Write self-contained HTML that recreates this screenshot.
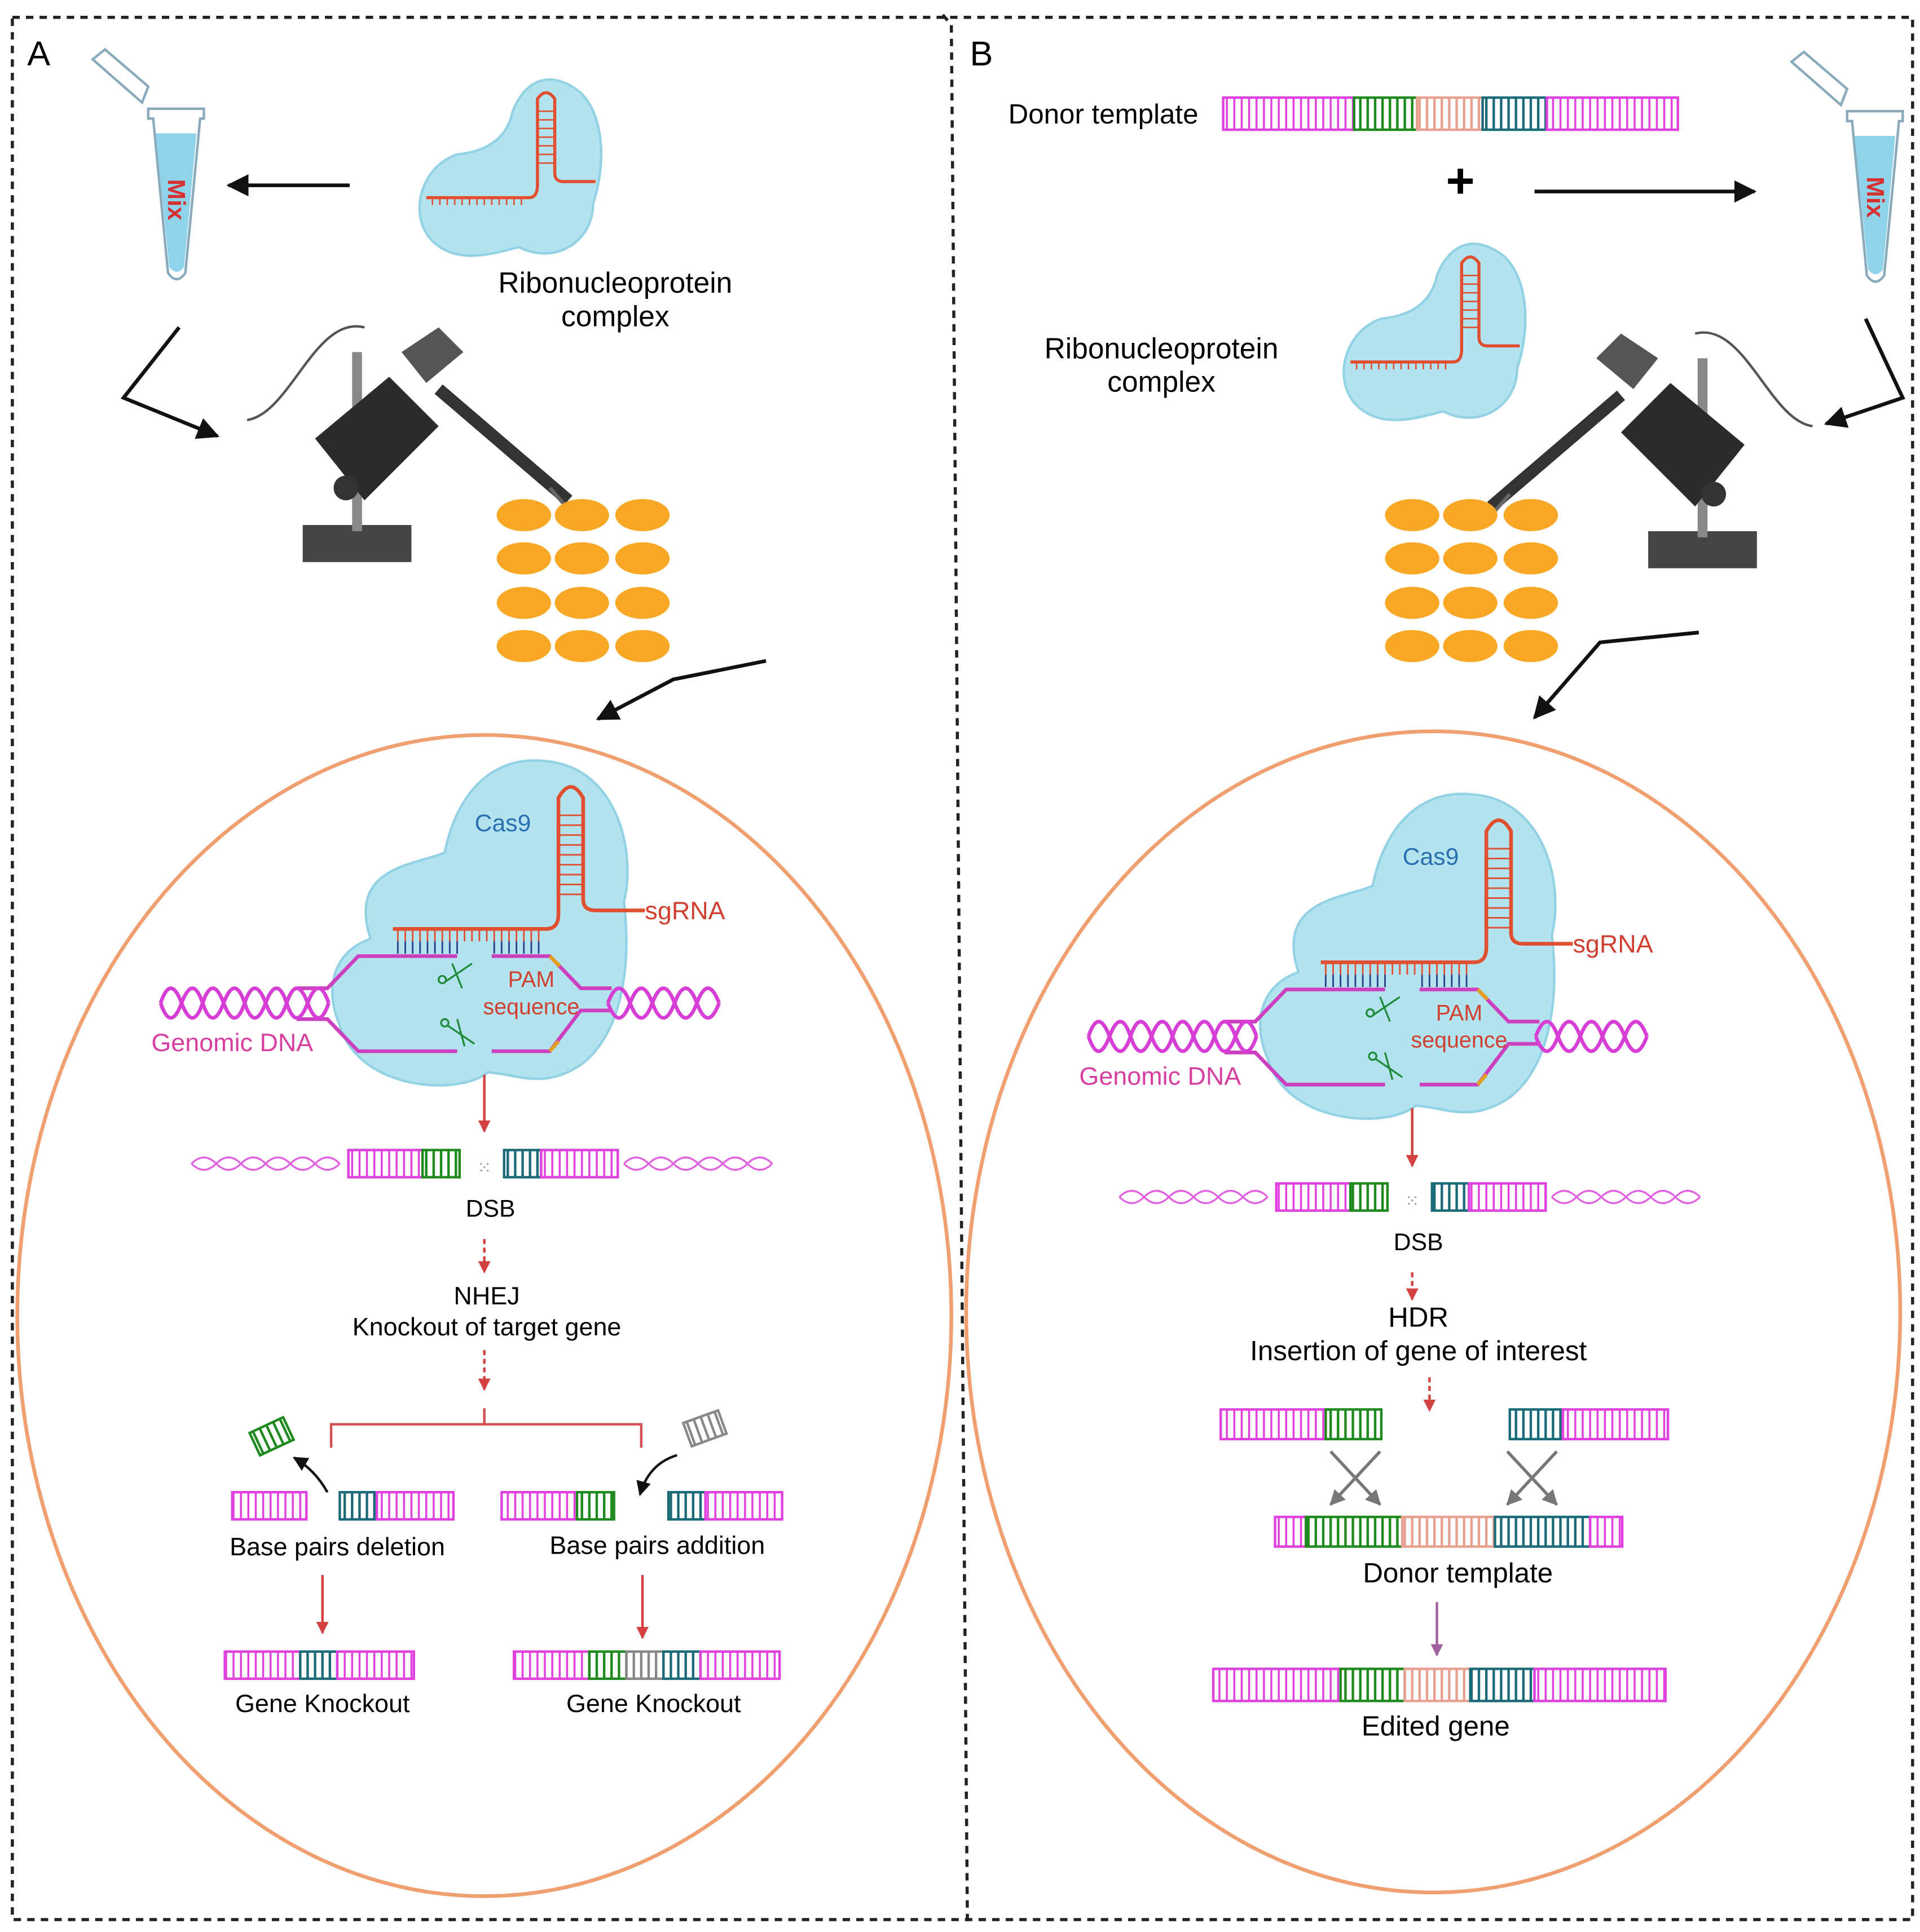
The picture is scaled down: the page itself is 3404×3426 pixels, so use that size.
<!DOCTYPE html>
<html><head><meta charset="utf-8"><style>
html,body{margin:0;padding:0;background:#fff;}
svg{display:block;}
text{font-family:"Liberation Sans",sans-serif;}
</style></head><body>
<svg width="3404" height="3426" viewBox="0 0 1554 1564" xmlns="http://www.w3.org/2000/svg">
<defs>
<pattern id="pp" width="6" height="30" patternUnits="userSpaceOnUse"><rect width="6" height="30" fill="#fff"/><line x1="3" y1="0" x2="3" y2="30" stroke="#e040e0" stroke-width="1.6"/></pattern>
<pattern id="pg" width="6" height="30" patternUnits="userSpaceOnUse"><rect width="6" height="30" fill="#fff"/><line x1="3" y1="0" x2="3" y2="30" stroke="#1e8a1e" stroke-width="2"/></pattern>
<pattern id="pt" width="6" height="30" patternUnits="userSpaceOnUse"><rect width="6" height="30" fill="#fff"/><line x1="3" y1="0" x2="3" y2="30" stroke="#1a6a78" stroke-width="2"/></pattern>
<pattern id="ps" width="6" height="30" patternUnits="userSpaceOnUse"><rect width="6" height="30" fill="#fff"/><line x1="3" y1="0" x2="3" y2="30" stroke="#e8a090" stroke-width="2"/></pattern>
<pattern id="pa" width="6" height="30" patternUnits="userSpaceOnUse"><rect width="6" height="30" fill="#fff"/><line x1="3" y1="0" x2="3" y2="30" stroke="#888" stroke-width="2"/></pattern>
<marker id="ak" viewBox="0 0 10 10" refX="9" refY="5" markerWidth="6" markerHeight="6" orient="auto"><path d="M0,0L10,5L0,10z" fill="#111"/></marker>
<marker id="ar" viewBox="0 0 10 10" refX="9" refY="5" markerWidth="5" markerHeight="5" orient="auto"><path d="M0,0L10,5L0,10z" fill="#d24040"/></marker>
<marker id="apu" viewBox="0 0 10 10" refX="9" refY="5" markerWidth="5" markerHeight="5" orient="auto"><path d="M0,0L10,5L0,10z" fill="#a060a0"/></marker>
<marker id="agr" viewBox="0 0 10 10" refX="9" refY="5" markerWidth="5" markerHeight="5" orient="auto"><path d="M0,0L10,5L0,10z" fill="#777"/></marker>
<g id="tube">
 <path d="M0,0 h45 v8 h-3 l-12,125 q-7,10 -14,0 l-12,-125 h-4z" fill="#fff" stroke="#8ab" stroke-width="2"/>
 <path d="M6,20 h33 l-10,108 q-6,8 -12,0z" fill="#8fd3ea"/>
 <path d="M-5,-5 l-40,-35 l10,-8 l35,30z" fill="#fff" stroke="#8ab" stroke-width="2"/>
</g>
<g id="rnp">
 <path d="M40,70 C10,80 0,120 20,140 C40,160 70,150 90,145 C120,160 150,140 150,110 C160,80 160,40 140,20 C115,0 95,10 85,35 C80,60 60,68 40,70Z" fill="#b3e3ef" stroke="#92d2e4" stroke-width="2"/>
 <path d="M15,105 H98 Q105,105 105,95 V25 Q112,15 119,25 V85 Q119,92 126,92 H152" fill="none" stroke="#e05030" stroke-width="2.5"/>
 <g stroke="#e05030" stroke-width="1.2"><path d="M20,105v6M26,105v6M32,105v6M38,105v6M44,105v6M50,105v6M56,105v6M62,105v6M68,105v6M74,105v6M80,105v6M86,105v6M92,105v6M105,35h14M105,42h14M105,49h14M105,56h14M105,63h14M105,70h14M105,77h14"/></g>
</g>
<g id="scope">
 <rect x="0" y="160" width="88" height="30" fill="#444"/>
 <rect x="40" y="20" width="8" height="145" fill="#888"/>
 <path d="M10,90 L70,40 L110,80 L50,140Z" fill="#2b2b2b"/>
 <path d="M80,20 L110,0 L130,20 L100,45Z" fill="#555"/>
 <path d="M110,50 L215,140" stroke="#333" stroke-width="10"/>
 <path d="M200,130 L222,155" stroke="#666" stroke-width="3"/>
 <circle cx="35" cy="130" r="10" fill="#333"/>
 <path d="M-45,75 C-10,70 10,-10 50,0" fill="none" stroke="#555" stroke-width="2"/>
</g>
<g id="eggs" fill="#f9a826">
 <ellipse cx="0" cy="0" rx="22" ry="13"/><ellipse cx="47" cy="0" rx="22" ry="13"/><ellipse cx="96" cy="0" rx="22" ry="13"/>
 <ellipse cx="0" cy="35" rx="22" ry="13"/><ellipse cx="47" cy="35" rx="22" ry="13"/><ellipse cx="96" cy="35" rx="22" ry="13"/>
 <ellipse cx="0" cy="71" rx="22" ry="13"/><ellipse cx="47" cy="71" rx="22" ry="13"/><ellipse cx="96" cy="71" rx="22" ry="13"/>
 <ellipse cx="0" cy="106" rx="22" ry="13"/><ellipse cx="47" cy="106" rx="22" ry="13"/><ellipse cx="96" cy="106" rx="22" ry="13"/>
</g>
<g id="helix" fill="none" stroke="#d63ed6" stroke-width="3">
 <path d="M0,0 q8,-24 17,0 t17,0 t17,0 t17,0 t17,0 t17,0 t17,0 t17,0"/>
 <path d="M0,0 q8,24 17,0 t17,0 t17,0 t17,0 t17,0 t17,0 t17,0 t17,0"/>
</g>
<g id="helix2" fill="none" stroke="#d63ed6" stroke-width="3">
 <path d="M0,0 q9,-24 18,0 t18,0 t18,0 t18,0 t18,0"/>
 <path d="M0,0 q9,24 18,0 t18,0 t18,0 t18,0 t18,0"/>
</g>
<g id="thin" fill="none" stroke="#e060e0" stroke-width="1.5">
 <path d="M0,0 q10,-10 20,0 t20,0 t20,0 t20,0 t20,0 t20,0"/>
 <path d="M0,0 q10,10 20,0 t20,0 t20,0 t20,0 t20,0 t20,0"/>
</g>
<g id="cas">
 <path d="M300,760 C280,700 340,700 360,690 C370,640 400,612 440,616 C500,620 515,690 505,730 C512,790 500,840 470,862 C440,882 420,870 395,868 C370,888 290,882 275,830 C262,800 270,770 300,760Z" fill="#b3e3ef" stroke="#92d2e4" stroke-width="2"/>
 <path d="M318,752 H442 Q452,752 452,740 V646 Q462,628 472,646 V728 Q472,737 482,737 H522" fill="none" stroke="#e05030" stroke-width="3"/>
 <g stroke="#e05030" stroke-width="1.3"><path d="M452,660h20M452,668h20M452,676h20M452,684h20M452,692h20M452,700h20M452,708h20M452,716h20M452,724h20"/>
 <path d="M322,752v10M328,752v10M334,752v10M340,752v10M346,752v10M352,752v10M358,752v10M364,752v10M370,752v10M376,752v10M382,752v10M388,752v10M394,752v10M400,752v10M406,752v10M412,752v10M418,752v10M424,752v10M430,752v10M436,752v10"/></g>
 <g stroke="#2a3f8a" stroke-width="1.3"><path d="M322,762v10M328,762v10M334,762v10M340,762v10M346,762v10M352,762v10M358,762v10M364,762v10M370,762v10M400,762v10M406,762v10M412,762v10M418,762v10M424,762v10M430,762v10M436,762v10"/></g>
 <g fill="none" stroke="#cc40c0" stroke-width="3">
 <path d="M240,800 H265 L290,774 H370 M398,774 H445 L470,800 H495"/>
 <path d="M240,825 H265 L290,851 H370 M398,851 H445 L470,818 H495"/></g>
 <path d="M445,774 l8,8 M445,851 l7,-8" stroke="#e0a020" stroke-width="3"/>
 <g stroke="#1e8a3a" stroke-width="1.5" fill="none"><path d="M360,795 l22,-15 M366,780 l8,20"/><circle cx="358" cy="793" r="3"/><path d="M362,830 l22,15 M370,825 l6,22"/><circle cx="360" cy="828" r="3"/></g>
 <use href="#helix" x="130" y="812"/>
 <use href="#helix2" x="492" y="812"/>
</g>
</defs>

<!-- borders -->
<g fill="none" stroke="#222" stroke-width="2.5" stroke-dasharray="6,5">
 <path d="M10,14 H1548 V1554 H10 Z"/>
 <path d="M763,12 L770,20 L783,1556"/>
</g>
<text x="22" y="53" font-size="28">A</text>
<text x="785" y="53" font-size="28">B</text>

<ellipse cx="392" cy="1065" rx="378" ry="470" fill="none" stroke="#f0a070" stroke-width="3"/>
<ellipse cx="1160" cy="1062" rx="378" ry="470" fill="none" stroke="#f0a070" stroke-width="3"/>

<!-- Panel A top -->
<use href="#tube" x="120" y="88"/>
<text x="0" y="0" font-size="20" font-weight="bold" fill="#d63030" transform="translate(136,145) rotate(90)">Mix</text>
<path d="M283,150 H185" stroke="#111" stroke-width="3" marker-end="url(#ak)"/>
<use href="#rnp" x="330" y="55"/>
<text x="498" y="237" font-size="23.5" text-anchor="middle">Ribonucleoprotein</text>
<text x="498" y="264" font-size="23.5" text-anchor="middle">complex</text>
<path d="M145,265 L100,322 L176,353" fill="none" stroke="#111" stroke-width="3" marker-end="url(#ak)"/>
<use href="#scope" x="245" y="265"/>
<use href="#eggs" x="424" y="417"/>
<path d="M620,535 L545,550 L484,582" fill="none" stroke="#111" stroke-width="3" marker-end="url(#ak)"/>

<!-- Panel A cell -->
<use href="#cas"/>
<text x="407" y="673" font-size="19.5" fill="#2a6fb0" text-anchor="middle">Cas9</text>
<text x="522" y="744" font-size="20.5" fill="#d04030">sgRNA</text>
<text x="430" y="799" font-size="18" fill="#d04030" text-anchor="middle">PAM</text>
<text x="430" y="821" font-size="18" fill="#d04030" text-anchor="middle">sequence</text>
<text x="188" y="851" font-size="20.5" fill="#d63ea0" text-anchor="middle">Genomic DNA</text>
<path d="M392,870 V916" stroke="#d24040" stroke-width="2" marker-end="url(#ar)"/>
<use href="#thin" x="155" y="942"/>
<use href="#thin" x="505" y="942"/>
<rect x="282" y="931" width="60" height="22" fill="url(#pp)" stroke="#e040e0" stroke-width="2"/>
<rect x="342" y="931" width="30" height="22" fill="url(#pg)" stroke="#1e8a1e" stroke-width="2"/>
<rect x="408" y="931" width="30" height="22" fill="url(#pt)" stroke="#1a6a78" stroke-width="2"/>
<rect x="438" y="931" width="62" height="22" fill="url(#pp)" stroke="#e040e0" stroke-width="2"/>
<text x="392" y="950" font-size="14" fill="#999" text-anchor="middle">⁙</text>
<text x="397" y="985" font-size="19.5" text-anchor="middle">DSB</text>
<path d="M392,1003 V1030" stroke="#d24040" stroke-width="2" stroke-dasharray="4,3" marker-end="url(#ar)"/>
<text x="394" y="1056" font-size="20.5" text-anchor="middle">NHEJ</text>
<text x="394" y="1081" font-size="20.5" text-anchor="middle">Knockout of target gene</text>
<path d="M392,1093 V1125" stroke="#d24040" stroke-width="2" stroke-dasharray="4,3" marker-end="url(#ar)"/>
<path d="M268,1172 V1153 H519 V1172 M392,1140 V1153" fill="none" stroke="#d25050" stroke-width="2"/>
<rect x="188" y="1208" width="60" height="22" fill="url(#pp)" stroke="#e040e0" stroke-width="2"/>
<rect x="275" y="1208" width="30" height="22" fill="url(#pt)" stroke="#1a6a78" stroke-width="2"/>
<rect x="305" y="1208" width="62" height="22" fill="url(#pp)" stroke="#e040e0" stroke-width="2"/>
<rect x="0" y="0" width="30" height="20" fill="url(#pg)" stroke="#1e8a1e" stroke-width="2" transform="translate(202,1160) rotate(-25)"/>
<path d="M265,1208 Q255,1190 238,1180" fill="none" stroke="#111" stroke-width="2" marker-end="url(#ak)"/>
<text x="273" y="1259" font-size="20.5" text-anchor="middle">Base pairs deletion</text>
<rect x="406" y="1208" width="61" height="22" fill="url(#pp)" stroke="#e040e0" stroke-width="2"/>
<rect x="467" y="1208" width="30" height="22" fill="url(#pg)" stroke="#1e8a1e" stroke-width="2"/>
<rect x="541" y="1208" width="30" height="22" fill="url(#pt)" stroke="#1a6a78" stroke-width="2"/>
<rect x="571" y="1208" width="62" height="22" fill="url(#pp)" stroke="#e040e0" stroke-width="2"/>
<rect x="0" y="0" width="30" height="20" fill="url(#pa)" stroke="#888" stroke-width="2" transform="translate(553,1152) rotate(-20)"/>
<path d="M548,1178 Q525,1185 518,1210" fill="none" stroke="#111" stroke-width="2" marker-end="url(#ak)"/>
<text x="532" y="1258" font-size="20.5" text-anchor="middle">Base pairs addition</text>
<path d="M261,1275 V1322" stroke="#d24040" stroke-width="2" marker-end="url(#ar)"/>
<path d="M520,1275 V1326" stroke="#d24040" stroke-width="2" marker-end="url(#ar)"/>
<rect x="182" y="1337" width="61" height="22" fill="url(#pp)" stroke="#e040e0" stroke-width="2"/>
<rect x="243" y="1337" width="30" height="22" fill="url(#pt)" stroke="#1a6a78" stroke-width="2"/>
<rect x="273" y="1337" width="62" height="22" fill="url(#pp)" stroke="#e040e0" stroke-width="2"/>
<text x="261" y="1386" font-size="20.5" text-anchor="middle">Gene Knockout</text>
<rect x="416" y="1337" width="61" height="22" fill="url(#pp)" stroke="#e040e0" stroke-width="2"/>
<rect x="477" y="1337" width="30" height="22" fill="url(#pg)" stroke="#1e8a1e" stroke-width="2"/>
<rect x="507" y="1337" width="30" height="22" fill="url(#pa)" stroke="#888" stroke-width="2"/>
<rect x="537" y="1337" width="30" height="22" fill="url(#pt)" stroke="#1a6a78" stroke-width="2"/>
<rect x="567" y="1337" width="64" height="22" fill="url(#pp)" stroke="#e040e0" stroke-width="2"/>
<text x="529" y="1386" font-size="20.5" text-anchor="middle">Gene Knockout</text>

<!-- Panel B top -->
<text x="893" y="100" font-size="22.5" text-anchor="middle">Donor template</text>
<rect x="990" y="79" width="106" height="26" fill="url(#pp)" stroke="#e040e0" stroke-width="2"/>
<rect x="1096" y="79" width="51" height="26" fill="url(#pg)" stroke="#1e8a1e" stroke-width="2"/>
<rect x="1147" y="79" width="53" height="26" fill="url(#ps)" stroke="#e8a090" stroke-width="2"/>
<rect x="1200" y="79" width="52" height="26" fill="url(#pt)" stroke="#1a6a78" stroke-width="2"/>
<rect x="1252" y="79" width="106" height="26" fill="url(#pp)" stroke="#e040e0" stroke-width="2"/>
<text x="1182" y="160" font-size="40" font-weight="bold" text-anchor="middle">+</text>
<path d="M1242,155 H1420" stroke="#111" stroke-width="3" marker-end="url(#ak)"/>
<use href="#tube" x="1495" y="90"/>
<text x="0" y="0" font-size="20" font-weight="bold" fill="#d63030" transform="translate(1511,143) rotate(90)">Mix</text>
<use href="#rnp" x="1078" y="188"/>
<text x="940" y="290" font-size="23.5" text-anchor="middle">Ribonucleoprotein</text>
<text x="940" y="317" font-size="23.5" text-anchor="middle">complex</text>
<path d="M1510,258 L1540,322 L1478,343" fill="none" stroke="#111" stroke-width="3" marker-end="url(#ak)"/>
<g transform="translate(1422,270) scale(-1,1)"><use href="#scope"/></g>
<use href="#eggs" x="1143" y="417"/>
<path d="M1375,512 L1295,520 L1242,581" fill="none" stroke="#111" stroke-width="3" marker-end="url(#ak)"/>

<!-- Panel B cell -->
<g transform="translate(751,27)"><use href="#cas"/></g>
<text x="1158" y="700" font-size="19.5" fill="#2a6fb0" text-anchor="middle">Cas9</text>
<text x="1273" y="771" font-size="20.5" fill="#d04030">sgRNA</text>
<text x="1181" y="826" font-size="18" fill="#d04030" text-anchor="middle">PAM</text>
<text x="1181" y="848" font-size="18" fill="#d04030" text-anchor="middle">sequence</text>
<text x="939" y="878" font-size="20.5" fill="#d63ea0" text-anchor="middle">Genomic DNA</text>
<path d="M1143,897 V944" stroke="#d24040" stroke-width="2" marker-end="url(#ar)"/>
<use href="#thin" x="906" y="969"/>
<use href="#thin" x="1256" y="969"/>
<rect x="1033" y="958" width="60" height="22" fill="url(#pp)" stroke="#e040e0" stroke-width="2"/>
<rect x="1093" y="958" width="30" height="22" fill="url(#pg)" stroke="#1e8a1e" stroke-width="2"/>
<rect x="1159" y="958" width="30" height="22" fill="url(#pt)" stroke="#1a6a78" stroke-width="2"/>
<rect x="1189" y="958" width="62" height="22" fill="url(#pp)" stroke="#e040e0" stroke-width="2"/>
<text x="1143" y="977" font-size="14" fill="#999" text-anchor="middle">⁙</text>
<text x="1148" y="1012" font-size="19.5" text-anchor="middle">DSB</text>
<path d="M1143,1030 V1052" stroke="#d24040" stroke-width="2" stroke-dasharray="4,3" marker-end="url(#ar)"/>
<text x="1148" y="1074" font-size="22.5" text-anchor="middle">HDR</text>
<text x="1148" y="1101" font-size="22.5" text-anchor="middle">Insertion of gene of interest</text>
<path d="M1157,1115 V1142" stroke="#d24040" stroke-width="2" stroke-dasharray="4,3" marker-end="url(#ar)"/>
<rect x="988" y="1141" width="85" height="24" fill="url(#pp)" stroke="#e040e0" stroke-width="2"/>
<rect x="1073" y="1141" width="45" height="24" fill="url(#pg)" stroke="#1e8a1e" stroke-width="2"/>
<rect x="1222" y="1141" width="43" height="24" fill="url(#pt)" stroke="#1a6a78" stroke-width="2"/>
<rect x="1265" y="1141" width="85" height="24" fill="url(#pp)" stroke="#e040e0" stroke-width="2"/>
<g stroke="#777" stroke-width="2.5">
<path d="M1077,1175 L1117,1218" marker-end="url(#agr)"/><path d="M1117,1175 L1077,1218" marker-end="url(#agr)"/>
<path d="M1220,1175 L1260,1218" marker-end="url(#agr)"/><path d="M1260,1175 L1220,1218" marker-end="url(#agr)"/>
</g>
<rect x="1032" y="1228" width="25" height="24" fill="url(#pp)" stroke="#e040e0" stroke-width="2"/>
<rect x="1057" y="1228" width="78" height="24" fill="url(#pg)" stroke="#1e8a1e" stroke-width="2"/>
<rect x="1135" y="1228" width="75" height="24" fill="url(#ps)" stroke="#e8a090" stroke-width="2"/>
<rect x="1210" y="1228" width="77" height="24" fill="url(#pt)" stroke="#1a6a78" stroke-width="2"/>
<rect x="1287" y="1228" width="26" height="24" fill="url(#pp)" stroke="#e040e0" stroke-width="2"/>
<text x="1180" y="1281" font-size="22.5" text-anchor="middle">Donor template</text>
<path d="M1163,1297 V1340" stroke="#a060a0" stroke-width="2" marker-end="url(#apu)"/>
<rect x="982" y="1351" width="103" height="26" fill="url(#pp)" stroke="#e040e0" stroke-width="2"/>
<rect x="1085" y="1351" width="52" height="26" fill="url(#pg)" stroke="#1e8a1e" stroke-width="2"/>
<rect x="1137" y="1351" width="53" height="26" fill="url(#ps)" stroke="#e8a090" stroke-width="2"/>
<rect x="1190" y="1351" width="52" height="26" fill="url(#pt)" stroke="#1a6a78" stroke-width="2"/>
<rect x="1242" y="1351" width="106" height="26" fill="url(#pp)" stroke="#e040e0" stroke-width="2"/>
<text x="1162" y="1405" font-size="22.5" text-anchor="middle">Edited gene</text>
</svg>
</body></html>
